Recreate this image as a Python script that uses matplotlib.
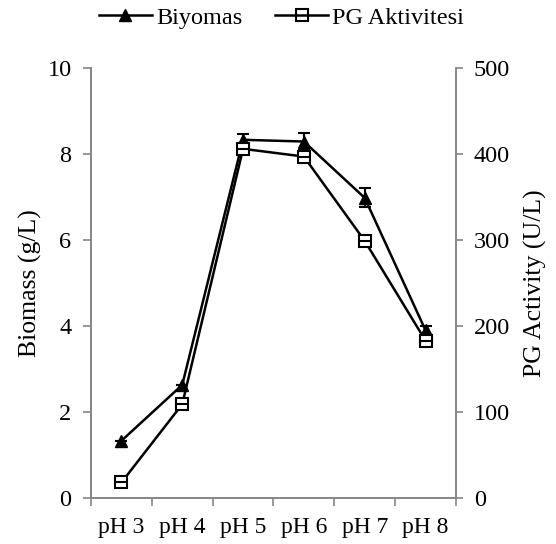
import numpy as np
import matplotlib.pyplot as plt
from matplotlib.lines import Line2D

plt.rcParams['font.family'] = ['Liberation Serif', 'DejaVu Serif']

# Datos
categorias = ['pH 3', 'pH 4', 'pH 5', 'pH 6', 'pH 7', 'pH 8']
biyomas = [1.33, 2.63, 8.33, 8.29, 6.98, 3.90]
biyomas_err = [0.0, 0.0, 0.13, 0.2, 0.22, 0.1]
pg_aktivite = [18, 109, 406, 397, 299, 183]

gri = '#868686'
x = np.arange(len(categorias))

fig = plt.figure(figsize=(5.56, 5.44), dpi=100)
ax = fig.add_axes([0.1637, 0.0846, 0.6563, 0.7904])
ax2 = ax.twinx()

ax.errorbar(x, biyomas, yerr=biyomas_err, color='black', lw=1.8,
            marker='^', ms=9, mfc='black', mec='black',
            capsize=4.5, capthick=1.5, elinewidth=1.5, zorder=3)
ax2.plot(x, pg_aktivite, color='black', lw=1.8,
         marker='s', ms=9, mfc='white', mec='black', mew=1.5, zorder=3)
# linea horizontal dentro del cuadrado
ax2.plot(x, pg_aktivite, ls='none', marker='_', ms=9, mec='black', mew=1.5, zorder=4)

ax.set_xlim(-0.5, 5.5)
ax.set_ylim(0, 10)
ax2.set_ylim(0, 500)
ax.set_yticks([0, 2, 4, 6, 8, 10])
ax2.set_yticks([0, 100, 200, 300, 400, 500])
ax.set_xticks(x)
ax.set_xticklabels(categorias)
ax.set_xticks(np.arange(-0.5, 6, 1), minor=True)
ax.tick_params(axis='x', which='major', length=0, labelsize=17, pad=14)
ax.tick_params(axis='x', which='minor', length=6, color=gri, width=1.2, direction='out')
ax.tick_params(axis='y', labelsize=17.5, length=6, color=gri, width=1.2, direction='out', pad=8)
ax2.tick_params(axis='y', labelsize=17.5, length=5, color=gri, width=1.2, direction='out', pad=8)

for a in (ax, ax2):
    a.spines['top'].set_visible(False)
    for s in ('left', 'right', 'bottom'):
        a.spines[s].set_color(gri)
        a.spines[s].set_linewidth(1.2)

ax.set_ylabel('Biomass (g/L)', fontsize=18.5, labelpad=4)
ax2.set_ylabel('PG Activity (U/L)', fontsize=18.5, labelpad=10)

h1 = Line2D([], [], color='black', lw=1.8, marker='^', ms=9, mfc='black')
h2 = Line2D([], [], color='black', lw=1.8, marker='s', ms=9, mfc='none', mew=1.5)
fig.legend(handles=[h1, h2], labels=['Biyomas', 'PG Aktivitesi'],
           loc='upper center', bbox_to_anchor=(0.506, 1.028),
           ncol=2, frameon=False, fontsize=17.5, handlelength=2.2,
           handletextpad=0.15, columnspacing=1.35)

plt.savefig('out.png', dpi=100)
